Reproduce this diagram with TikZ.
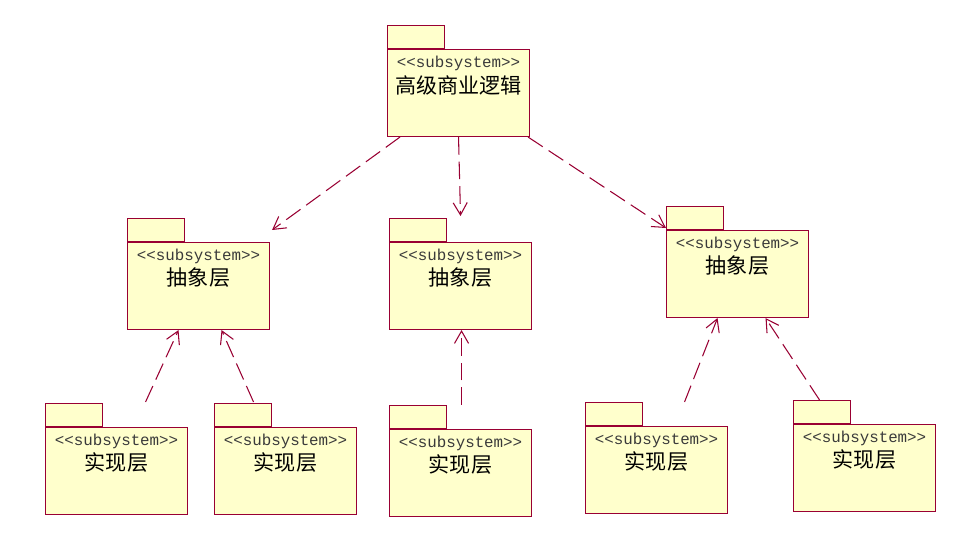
\documentclass[tikz,border=0pt]{standalone}
\usepackage{fontspec}
\usepackage{xcolor}
\usepackage{tikz}
\usetikzlibrary{arrows.meta}
\setmonofont{Liberation Mono}
\newfontfamily\cjk{Noto Sans CJK SC}
\definecolor{PkgFill}{HTML}{FFFFCC}
\definecolor{PkgLine}{HTML}{990033}
\definecolor{PkgText}{HTML}{3A3A3A}

\begin{document}
\begin{tikzpicture}[x=1cm,y=1cm,
  pkgbody/.style={draw=PkgLine,fill=PkgFill,line width=.6pt,inner sep=0pt,
    minimum width=2.84cm,minimum height=1.74cm,anchor=north west},
  pkgtab/.style={draw=PkgLine,fill=PkgFill,line width=.6pt,inner sep=0pt,
    minimum width=1.14cm,minimum height=.46cm,anchor=south west},
  stereo/.style={font=\ttfamily\fontsize{9}{10}\selectfont,text=PkgText,inner sep=0pt},
  pkgname/.style={font=\cjk\fontsize{12}{14}\selectfont,inner sep=0pt},
  dep/.style={PkgLine,line width=.6pt,dash pattern=on 10pt off 4pt,
    -{Straight Barb[length=7pt,width=8pt]}}]
\path[use as bounding box] (0,0) rectangle (19.58,10.86);
\fill[white] (0,0) rectangle (19.58,10.86);
% business logic
\node[pkgtab] (toptab) at (7.74,9.88) {};
\node[pkgbody] (top) at (7.74,9.88) {};
\node[stereo] (topst) at ([yshift=-.28cm]top.north) {<<subsystem>>};
\node[pkgname] (topname) at ([yshift=-.72cm]top.north) {高级商业逻辑};
% abstraction layers
\node[pkgtab] (mltab) at (2.54,6.02) {};
\node[pkgbody] (ml) at (2.54,6.02) {};
\node[stereo] (mlst) at ([yshift=-.28cm]ml.north) {<<subsystem>>};
\node[pkgname] (mlname) at ([yshift=-.72cm]ml.north) {抽象层};
\node[pkgtab] (mctab) at (7.78,6.02) {};
\node[pkgbody] (mc) at (7.78,6.02) {};
\node[stereo] (mcst) at ([yshift=-.28cm]mc.north) {<<subsystem>>};
\node[pkgname] (mcname) at ([yshift=-.72cm]mc.north) {抽象层};
\node[pkgtab] (mrtab) at (13.32,6.26) {};
\node[pkgbody] (mr) at (13.32,6.26) {};
\node[stereo] (mrst) at ([yshift=-.28cm]mr.north) {<<subsystem>>};
\node[pkgname] (mrname) at ([yshift=-.72cm]mr.north) {抽象层};
% implementation layers
\node[pkgtab] (bl1tab) at (0.90,2.32) {};
\node[pkgbody] (bl1) at (0.90,2.32) {};
\node[stereo] (bl1st) at ([yshift=-.28cm]bl1.north) {<<subsystem>>};
\node[pkgname] (bl1name) at ([yshift=-.72cm]bl1.north) {实现层};
\node[pkgtab] (bl2tab) at (4.28,2.32) {};
\node[pkgbody] (bl2) at (4.28,2.32) {};
\node[stereo] (bl2st) at ([yshift=-.28cm]bl2.north) {<<subsystem>>};
\node[pkgname] (bl2name) at ([yshift=-.72cm]bl2.north) {实现层};
\node[pkgtab] (bctab) at (7.78,2.28) {};
\node[pkgbody] (bc) at (7.78,2.28) {};
\node[stereo] (bcst) at ([yshift=-.28cm]bc.north) {<<subsystem>>};
\node[pkgname] (bcname) at ([yshift=-.72cm]bc.north) {实现层};
\node[pkgtab] (br1tab) at (11.70,2.34) {};
\node[pkgbody] (br1) at (11.70,2.34) {};
\node[stereo] (br1st) at ([yshift=-.28cm]br1.north) {<<subsystem>>};
\node[pkgname] (br1name) at ([yshift=-.72cm]br1.north) {实现层};
\node[pkgtab] (br2tab) at (15.86,2.38) {};
\node[pkgbody] (br2) at (15.86,2.38) {};
\node[stereo] (br2st) at ([yshift=-.28cm]br2.north) {<<subsystem>>};
\node[pkgname] (br2name) at ([yshift=-.72cm]br2.north) {实现层};
% dependencies
\draw[dep] ([xshift=.26cm]top.south west) -- ([shift={(.04,.24)}]ml.north east);
\draw[dep] (top.south) -- ([yshift=.52cm]mc.north);
\draw[dep] ([xshift=-.04cm]top.south east) -- ([yshift=.04cm]mr.north west);
\draw[dep] ([shift={(.58,.50)}]bl1.north) -- ([xshift=-.40cm]ml.south);
\draw[dep] ([shift={(-.64,.50)}]bl2.north) -- ([xshift=.46cm]ml.south);
\draw[dep] ([shift={(.02,.48)}]bc.north) -- ([xshift=.02cm]mc.south);
\draw[dep] ([shift={(.56,.48)}]br1.north) -- ([xshift=-.40cm]mr.south);
\draw[dep] ([shift={(-.90,.48)}]br2.north) -- ([xshift=.56cm]mr.south);
\end{tikzpicture}
\end{document}
